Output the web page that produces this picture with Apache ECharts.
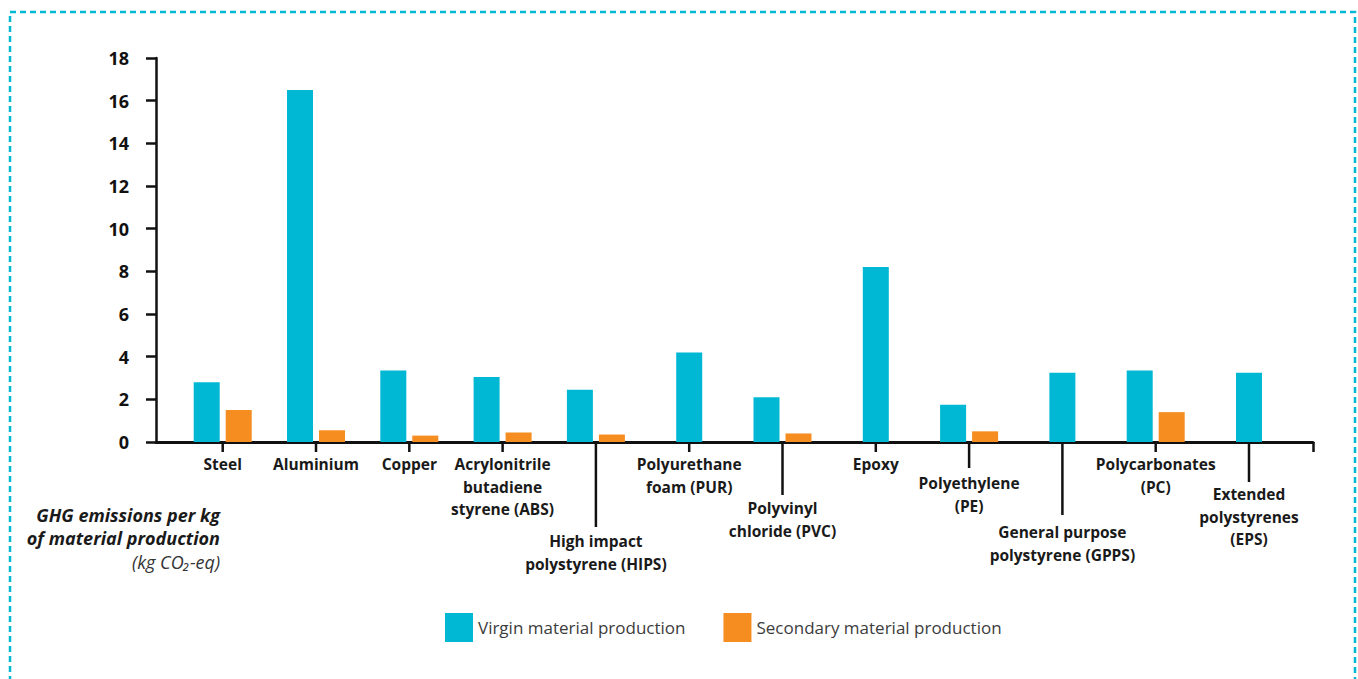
<!DOCTYPE html>
<html>
<head>
<meta charset="utf-8">
<title>GHG emissions per kg of material production</title>
<script src="https://cdn.jsdelivr.net/npm/echarts@6/dist/echarts.min.js"></script>
<style>
  html, body { margin: 0; padding: 0; background: #ffffff; }
  #chart { width: 1358px; height: 679px; }
</style>
</head>
<body>
<div id="chart"></div>
<script>
// Materials along the horizontal axis
const categories = [
  'Steel',
  'Aluminium',
  'Copper',
  'Acrylonitrile\nbutadiene\nstyrene (ABS)',
  'High impact\npolystyrene (HIPS)',
  'Polyurethane\nfoam (PUR)',
  'Polyvinyl\nchloride (PVC)',
  'Epoxy',
  'Polyethylene\n(PE)',
  'General purpose\npolystyrene (GPPS)',
  'Polycarbonates\n(PC)',
  'Extended\npolystyrenes\n(EPS)'
];

// kg CO2-eq per kg of material
const virgin    = [2.8, 16.5, 3.35, 3.05, 2.45, 4.2, 2.1, 8.2, 1.75, 3.25, 3.35, 3.25];
const secondary = [1.5, 0.55, 0.3, 0.45, 0.35, null, 0.4, null, 0.5, null, 1.4, null];

const seriesNames = ['Virgin material production', 'Secondary material production'];
const yTickValues = [0, 2, 4, 6, 8, 10, 12, 14, 16, 18];

// Layout: how far (px) each category's tick and label hang below the axis
const tickDrop  = [10, 10, 10, 10, 85, 10, 53, 10, 26, 73, 10, 40];
const labelDrop = [11, 11, 11, 11, 88, 11, 55, 11, 30, 79, 11, 41];

const CYAN = '#00b8d4';
const ORANGE = '#f68d21';
const FONT = '"Open Sans", "DejaVu Sans", sans-serif';
const X_MIN = -0.715;
const X_MAX = 11.686;
const BAR_W = 26;
const PAIR_SHIFT = 16;

function barRenderer(isVirgin) {
  return function (params, api) {
    const i = api.value(0);
    const v = api.value(1);
    const base = api.coord([i, 0]);
    const top = api.coord([i, v]);
    let cx = base[0];
    if (secondary[i] != null) cx += isVirgin ? -PAIR_SHIFT : PAIR_SHIFT;
    return {
      type: 'rect',
      shape: { x: cx - BAR_W / 2, y: top[1], width: BAR_W, height: base[1] - top[1] },
      style: { fill: api.visual('color') }
    };
  };
}

function tickRenderer(params, api) {
  const i = api.value(0);
  const p = api.coord([i, 0]);
  return {
    type: 'group',
    children: [
      {
        type: 'line',
        shape: { x1: p[0], y1: p[1], x2: p[0], y2: p[1] + tickDrop[i] },
        style: { stroke: '#111', lineWidth: 2.5 }
      },
      {
        type: 'text',
        style: {
          text: categories[i],
          x: p[0],
          y: p[1] + labelDrop[i],
          align: 'center',
          verticalAlign: 'top',
          font: 'bold 15.5px ' + FONT,
          lineHeight: 22.5,
          fill: '#1a1a1a'
        }
      }
    ]
  };
}

const chart = echarts.init(document.getElementById('chart'), null, { renderer: 'svg' });

chart.setOption({
  backgroundColor: '#ffffff',
  animation: false,
  title: {
    text: '{b|GHG emissions per kg}\n{b|of material production}\n{r|(kg CO₂-eq)}',
    left: 220,
    top: 503,
    padding: 0,
    textAlign: 'right',
    textStyle: {
      rich: {
        b: { fontFamily: FONT, fontStyle: 'italic', fontWeight: 'bold', fontSize: 18, lineHeight: 23.5, color: '#1a1a1a', align: 'right' },
        r: { fontFamily: FONT, fontStyle: 'italic', fontWeight: 'normal', fontSize: 18, lineHeight: 23.5, color: '#333333', align: 'right' }
      }
    }
  },
  legend: {
    left: 445,
    top: 613,
    padding: 0,
    itemWidth: 28,
    itemHeight: 29,
    itemGap: 38,
    icon: 'rect',
    data: seriesNames,
    selectedMode: false,
    textStyle: { fontFamily: FONT, fontSize: 17, color: '#3c3c3c' }
  },
  graphic: [
    {
      type: 'rect',
      silent: true,
      shape: { x: 10, y: 12, width: 1345, height: 720 },
      style: { fill: 'none', stroke: CYAN, lineWidth: 2.5, lineDash: [6, 4] }
    }
  ],
  grid: { left: 156, right: 45, top: 58, bottom: 237, containLabel: false },
  xAxis: {
    type: 'value',
    min: X_MIN,
    max: X_MAX,
    axisLine: { show: true, onZero: false, lineStyle: { color: '#111', width: 3 } },
    axisTick: { show: true, customValues: [X_MAX], length: 10, lineStyle: { color: '#111', width: 2.5 } },
    axisLabel: { show: false },
    splitLine: { show: false }
  },
  yAxis: {
    type: 'value',
    min: 0,
    max: 18,
    interval: 2,
    axisLine: { show: true, onZero: false, lineStyle: { color: '#111', width: 2.5 } },
    axisTick: { show: true, length: 10, lineStyle: { color: '#111', width: 2.5 } },
    axisLabel: {
      margin: 27,
      fontFamily: FONT,
      fontWeight: 'bold',
      fontSize: 18,
      color: '#111',
      customValues: yTickValues
    },
    splitLine: { show: false }
  },
  series: [
    {
      name: seriesNames[0],
      type: 'custom',
      itemStyle: { color: CYAN },
      renderItem: barRenderer(true),
      encode: { x: 0, y: 1 },
      data: virgin.map((v, i) => [i, v]),
      z: 2
    },
    {
      name: seriesNames[1],
      type: 'custom',
      itemStyle: { color: ORANGE },
      renderItem: barRenderer(false),
      encode: { x: 0, y: 1 },
      data: secondary.map((v, i) => [i, v]).filter(d => d[1] != null),
      z: 2
    },
    {
      name: 'categoryTicks',
      type: 'custom',
      silent: true,
      clip: false,
      renderItem: tickRenderer,
      encode: { x: 0, y: 1 },
      data: categories.map((c, i) => [i, 0]),
      z: 3
    }
  ]
});
</script>
</body>
</html>
